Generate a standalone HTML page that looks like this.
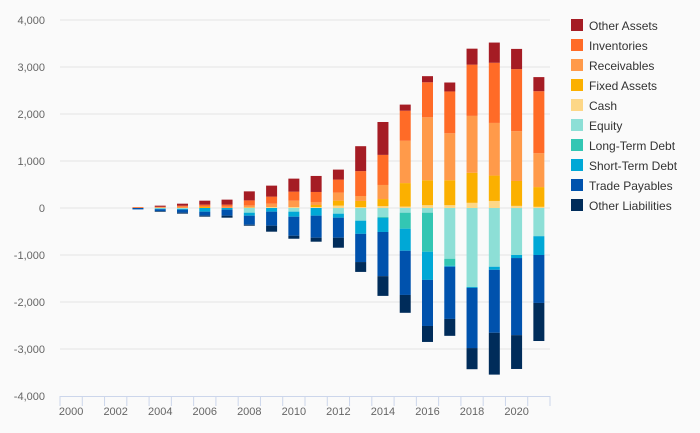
<!DOCTYPE html>
<html><head><meta charset="utf-8"><style>
body{margin:0;background:#fafafa;font-family:"Liberation Sans",sans-serif}
svg{display:block}
text{font-family:"Liberation Sans",sans-serif}
</style></head><body>
<svg id="chart" width="700" height="433">
<rect width="700" height="433" fill="#fafafa"/>
<g id="grid"></g><g id="bars"></g><g id="axes"></g><g id="legend"></g>
</svg>
<script>
const years=[2003,2004,2005,2006,2007,2008,2009,2010,2011,2012,2013,2014,2015,2016,2017,2018,2019,2020,2021];
const cash=[0,0,0,0,0,5,21,21,21,50,20,40,30,60,60,110,150,45,25];
const fixedAssets=[0,5,0,28,0,10,0,0,43,107,130,150,500,530,530,640,540,530,420];
const receivables=[5,10,28,0,28,40,71,135,64,170,105,300,900,1340,1000,1210,1120,1060,720];
const inventories=[15,10,21,43,43,107,150,192,213,277,530,640,640,745,890,1090,1280,1320,1320];
const otherAssets=[0,25,43,85,107,192,234,277,341,213,530,700,130,130,190,340,430,430,300];
const equity=[0,-15,-20,0,0,-100,0,-78,0,-121,-270,-190,-100,-100,-1080,-1680,-1250,-1000,-600];
const longTermDebt=[0,0,0,0,0,0,0,0,0,0,0,-20,-340,-830,-150,0,0,0,0];
const shortTermDebt=[0,-10,-15,-78,-35,-64,-78,-107,-163,-85,-280,-300,-470,-600,-20,-20,-65,-65,-400];
const tradePayables=[-30,-40,-64,-85,-128,-192,-298,-405,-469,-426,-600,-940,-940,-980,-1110,-1280,-1340,-1640,-1020];
const otherLiabilities=[0,-15,-21,-21,-43,-21,-128,-64,-85,-213,-210,-420,-380,-340,-360,-450,-890,-720,-810];
const yTicks=[4000,3000,2000,1000,0,-1000,-2000,-3000,-4000];
const xLabels=[2000,2002,2004,2006,2008,2010,2012,2014,2016,2018,2020];
const NS="http://www.w3.org/2000/svg";
const pos=[["Cash",cash,"#fdd787"],["Fixed Assets",fixedAssets,"#fbb000"],["Receivables",receivables,"#ff9a4a"],["Inventories",inventories,"#ff6b27"],["Other Assets",otherAssets,"#a51c24"]];
const neg=[["Equity",equity,"#8ddfd6"],["Long-Term Debt",longTermDebt,"#33c6b3"],["Short-Term Debt",shortTermDebt,"#00a8d6"],["Trade Payables",tradePayables,"#0052ad"],["Other Liabilities",otherLiabilities,"#002c5a"]];
const X0=60,X1=550,yr0=2000,nY=22,step=(X1-X0)/nY;
function xS(y){return X0+(y-yr0+0.5)*step;}
function yS(v){return 208-v*0.047;}
function mk(tag,at,parent){const e=document.createElementNS(NS,tag);for(const k in at)e.setAttribute(k,at[k]);parent.appendChild(e);return e;}
const grid=document.getElementById('grid'),bars=document.getElementById('bars'),axes=document.getElementById('axes'),legend=document.getElementById('legend');
yTicks.forEach(t=>{
  if(t!==-4000){const l=mk('line',{x1:X0,x2:X1,y1:yS(t),y2:yS(t),stroke:'#e4e4e4','stroke-width':1},grid);
  
  }
  const tx=mk('text',{x:45,y:yS(t)+4,'text-anchor':'end','font-size':11,fill:'#666'},axes);
  tx.textContent=t.toLocaleString('en-US');
  
  
});
const ax=mk('line',{x1:X0,x2:X1,y1:396.5,y2:396.5,stroke:'#ccd6eb','stroke-width':1},axes);


for(let i=0;i<=nY;i++){const tk=mk('line',{x1:X0+i*step,x2:X0+i*step,y1:396,y2:406,stroke:'#ccd6eb'},axes);

}
xLabels.forEach(y=>{const tx=mk('text',{x:xS(y),y:415,'text-anchor':'middle','font-size':11,fill:'#666'},axes);tx.textContent=y;

});
function stack(series){
  years.forEach((yr,i)=>{let acc=0;series.forEach(([name,arr,col])=>{const v=arr[i];if(!v)return;
    const a=yS(acc),b=yS(acc+v);acc+=v;
    const r=mk('rect',{x:xS(yr)-5.5,width:11,y:Math.min(a,b),height:Math.abs(a-b),fill:col},bars);
    
    });});
}
stack(pos);stack(neg);
const legItems=[...pos].reverse().concat(neg);
legItems.forEach(([name,,col],i)=>{
  const g=mk('g',{},legend);
  
  
  mk('rect',{x:571,y:19+i*20,width:12,height:12,fill:col},g);
  const t=mk('text',{x:589,y:30+i*20,'font-size':12,fill:'#333'},g);t.textContent=name;
});
</script>
</body></html>
